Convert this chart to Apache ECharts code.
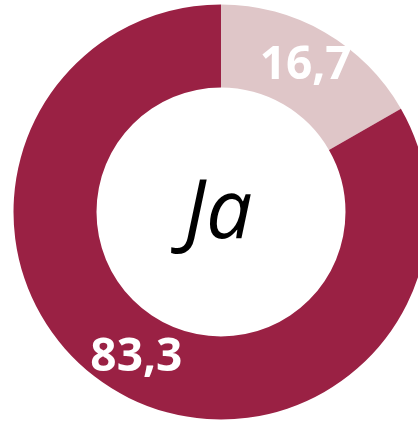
<!DOCTYPE html>
<html lang="de">
  <head>
    <meta charset="UTF-8" />
    <title>Ja</title>
    <script src="https://cdn.jsdelivr.net/npm/echarts@6/dist/echarts.min.js"></script>
    <style>
      html,
      body {
        margin: 0;
        padding: 0;
        background: #fff;
      }
      #main {
        width: 418px;
        height: 424px;
      }
    </style>
  </head>
  <body>
    <div id="main"></div>
    <script>
      var names = ["Ja", "Rest"];
      var values = [16.7, 83.3];
      var colors = ["#DFC6C8", "#9A2144"];
      var centerText = "Ja";

      var chart = echarts.init(document.getElementById("main"));
      var pieData = [];
      for (var i = 0; i < names.length; i++) {
        pieData.push({
          name: names[i],
          value: values[i],
          itemStyle: { color: colors[i] },
        });
      }

      var option = {
        backgroundColor: "#fff",
        animation: false,
        graphic: [
          {
            type: "text",
            left: 221 - 37,
            top: 212 - 38,
            style: {
              text: centerText,
              font: "italic 82px 'Open Sans'",
              fill: "#000",
            },
          },
        ],
        series: [
          {
            type: "pie",
            center: [221, 212],
            radius: [124.5, 207.5],
            startAngle: 90,
            clockwise: true,
            emphasis: { disabled: true },
            itemStyle: { borderWidth: 0 },
            label: {
              show: true,
              position: "inside",
              color: "#fff",
              fontFamily: "Open Sans",
              fontWeight: "bold",
              fontSize: 46,
              padding: [6, 0, 0, 0],
              formatter: function (p) {
                return String(p.value).replace(".", ",");
              },
            },
            labelLine: { show: false },
            data: pieData,
          },
        ],
      };
      chart.setOption(option);
    </script>
  </body>
</html>
